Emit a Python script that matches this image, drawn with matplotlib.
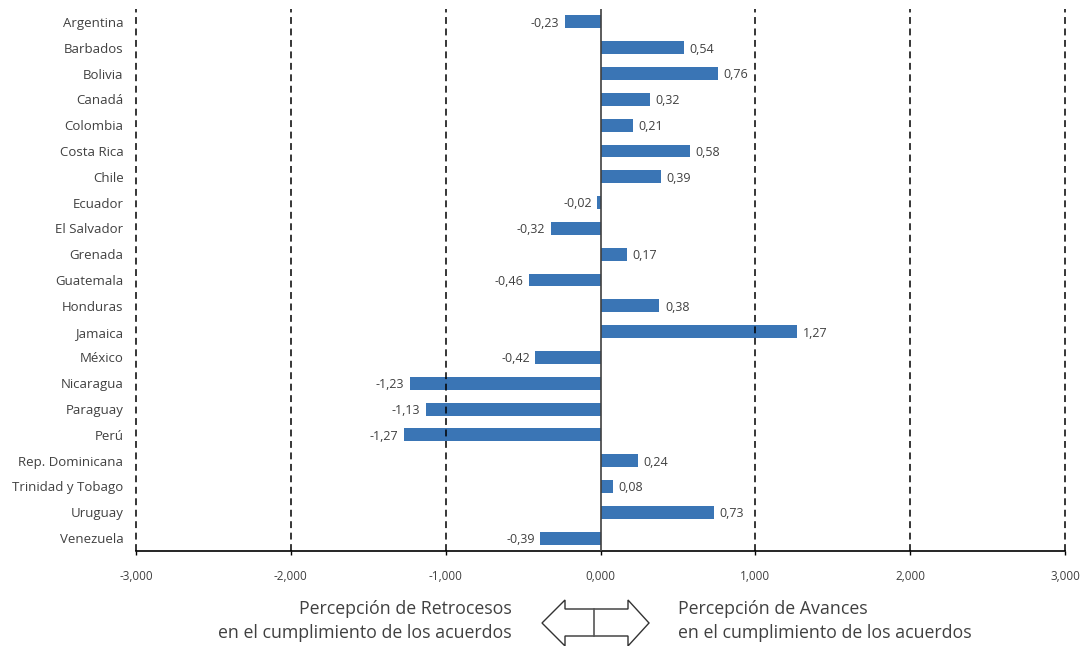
import matplotlib.pyplot as plt
from matplotlib.patches import Polygon

# data
countries = ["Argentina", "Barbados", "Bolivia", "Canadá", "Colombia", "Costa Rica",
             "Chile", "Ecuador", "El Salvador", "Grenada", "Guatemala", "Honduras",
             "Jamaica", "México", "Nicaragua", "Paraguay", "Perú", "Rep. Dominicana",
             "Trinidad y Tobago", "Uruguay", "Venezuela"]
values = [-0.23, 0.54, 0.76, 0.32, 0.21, 0.58, 0.39, -0.02, -0.32, 0.17, -0.46,
          0.38, 1.27, -0.42, -1.23, -1.13, -1.27, 0.24, 0.08, 0.73, -0.39]
xticks = [-3, -2, -1, 0, 1, 2, 3]
xtick_labels = ["-3,000", "-2,000", "-1,000", "0,000", "1,000", "2,000", "3,000"]
left_note = "Percepción de Retrocesos\nen el cumplimiento de los acuerdos"
right_note = "Percepción de Avances\nen el cumplimiento de los acuerdos"

plt.rcParams['font.family'] = ['Open Sans', 'DejaVu Sans']
txt = '#404040'
bar_color = '#3a75b5'

W, H = 1088, 646
fig = plt.figure(figsize=(W / 100, H / 100), dpi=100)
ax = fig.add_axes([136 / W, 1 - 551 / H, (1065 - 136) / W, (551 - 9) / H])

ypos = list(range(len(countries)))
ax.barh(ypos, values, height=0.5, color=bar_color, zorder=2)

# value labels
for y, v in zip(ypos, values):
    s = f"{v:.2f}".replace('.', ',')
    if v >= 0:
        ax.annotate(s, (v, y), xytext=(4, -1), textcoords='offset points',
                    ha='left', va='center', fontsize=9, color=txt)
    else:
        ax.annotate(s, (v, y), xytext=(-4, -1), textcoords='offset points',
                    ha='right', va='center', fontsize=9, color=txt)

# dashed gridlines on top of bars, solid zero line
for x in xticks:
    if x == 0:
        ax.axvline(x, color='#404040', lw=1.2, zorder=3)
    else:
        ax.axvline(x, color='black', lw=1.1, linestyle=(0, (4.5, 3)), zorder=3,
                   clip_on=False)

ax.set_xlim(-3, 3)
ax.set_ylim(len(countries) - 0.5, -0.5)
ax.set_yticks(ypos)
ax.set_yticklabels(countries, fontsize=9.5, color=txt)
ax.set_xticks(xticks)
ax.set_xticklabels(xtick_labels, fontsize=8.5, color=txt)
ax.tick_params(axis='y', length=0, pad=9)
ax.tick_params(axis='x', length=3, width=1, pad=11)
for side in ['top', 'right', 'left']:
    ax.spines[side].set_visible(False)
ax.spines['bottom'].set_linewidth(1.2)

# notes under the chart
fig.text(512 / W, 1 - 621 / H, left_note, ha='right', va='center',
         fontsize=12.8, color=txt, linespacing=1.5)
fig.text(678 / W, 1 - 621 / H, right_note, ha='left', va='center',
         fontsize=12.8, color=txt, linespacing=1.5)

# double outline arrow
pts = [(542, 623), (565, 600), (565, 609), (628, 609), (628, 600), (649, 623),
       (628, 646), (628, 636), (565, 636), (565, 646)]
arrow = Polygon([(x / W, 1 - y / H) for x, y in pts], closed=True, fill=False,
                edgecolor='#333333', lw=1.0, transform=fig.transFigure)
fig.patches.append(arrow)
fig.lines.append(plt.Line2D([594 / W, 594 / W], [1 - 609 / H, 1 - 636 / H],
                            color='#555555', lw=1.2, transform=fig.transFigure))

fig.savefig('out.png', dpi=100)
